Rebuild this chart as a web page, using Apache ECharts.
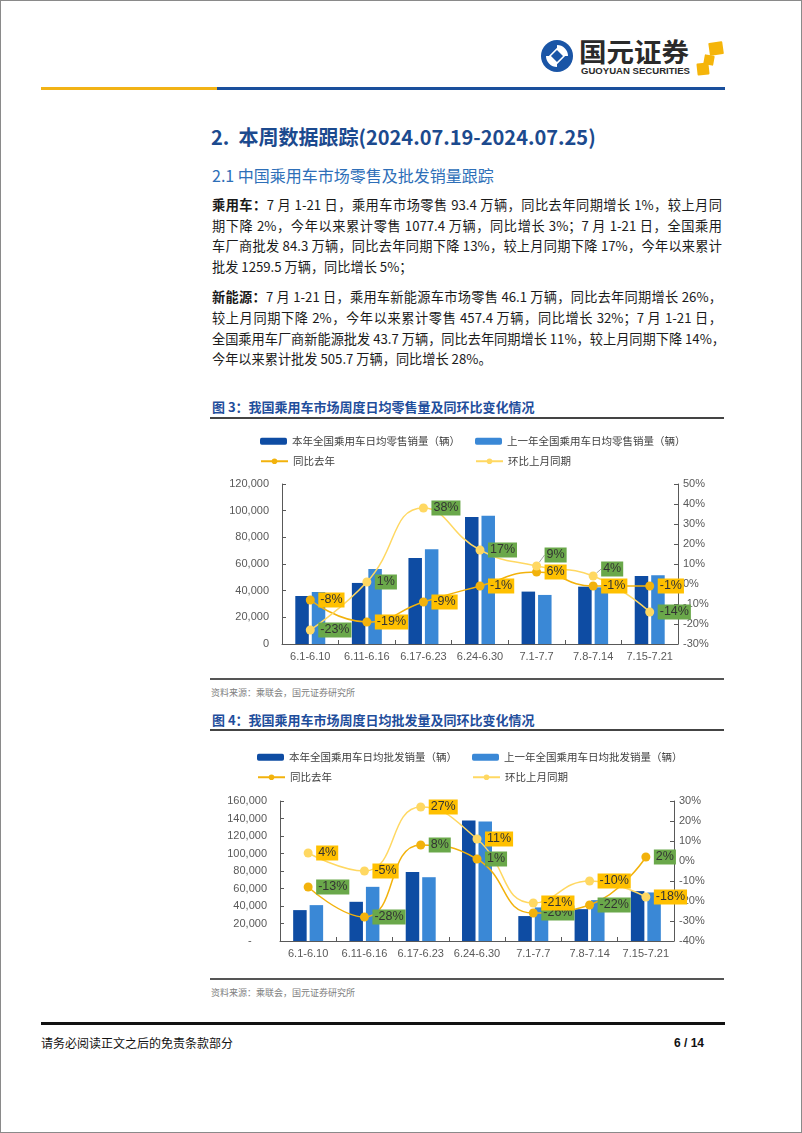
<!DOCTYPE html>
<html>
<head>
<meta charset="utf-8">
<script src="https://cdn.jsdelivr.net/npm/echarts@6/dist/echarts.min.js"></script>
<style>
html,body{margin:0;padding:0;background:#fff;}
#page{position:relative;width:802px;height:1133px;overflow:hidden;background:#fff;font-family:"Noto Sans CJK SC","Noto Sans",sans-serif;}
#border{position:absolute;left:0;top:0;width:802px;height:1133px;box-sizing:border-box;border:1px solid #8a8a8a;pointer-events:none;}
.t{position:absolute;white-space:nowrap;}
.ln{position:absolute;}
.body{position:absolute;left:212px;width:510px;font-size:13.2px;line-height:20px;height:20px;color:#1a1a1a;white-space:nowrap;text-align:justify;text-align-last:justify;}
.body.last{text-align:left;text-align-last:left;}
.body b{font-weight:700;}
.chart{position:absolute;left:200px;width:524px;}
</style>
</head>
<body>
<div id="page">
  <svg class="t" style="left:535px;top:36px" width="195" height="44" viewBox="0 0 195 44">
    <circle cx="22" cy="20" r="16" fill="#1a55a6"/>
    <path d="M22 9 A11 11 0 0 1 33 20 L27 20 A5 5 0 0 0 22 15 Z" fill="#fff"/>
    <path d="M22 31 A11 11 0 0 1 11 20 L17 20 A5 5 0 0 0 22 25 Z" fill="#fff"/>
    <rect x="17" y="15" width="10" height="10" transform="rotate(45 22 20)" fill="#1a55a6" stroke="#fff" stroke-width="1.5"/>
    <text x="44" y="26" font-family="Noto Sans CJK SC" font-weight="700" font-size="26" fill="#2a2a2a" textLength="110" lengthAdjust="spacingAndGlyphs">国元证券</text>
    <text x="46" y="38" font-family="Liberation Sans, Arial" font-weight="700" font-size="8.5" fill="#2a2a2a" textLength="109" lengthAdjust="spacingAndGlyphs">GUOYUAN SECURITIES</text>
    <rect x="174" y="6" width="14" height="13" rx="1" fill="#f5b50a" transform="rotate(-8 181 12)"/>
    <rect x="169" y="19" width="10" height="10" rx="1" fill="#f5b50a" transform="rotate(10 174 24)"/>
    <rect x="162" y="27" width="12" height="12" rx="1" fill="#f5b50a" transform="rotate(-6 168 33)"/>
  </svg>
  <div class="ln" style="left:41px;top:87px;width:176px;height:3px;background:#f2b316"></div>
  <div class="ln" style="left:217px;top:87px;width:508px;height:3px;background:#1a4f9c"></div>

  <div class="t" style="left:211px;top:124px;font-size:20px;line-height:26px;font-weight:700;color:#1c4a8e">2.&nbsp;&nbsp;本周数据跟踪(2024.07.19-2024.07.25)</div>
  <div class="t" style="left:212px;top:165px;font-size:16px;line-height:20px;color:#2e6fb8">2.1 中国乘用车市场零售及批发销量跟踪</div>

  <div class="body" style="top:195px"><b>乘用车：</b>7 月 1-21 日，乘用车市场零售 93.4 万辆，同比去年同期增长 1%，较上月同</div>
  <div class="body" style="top:216px">期下降 2%，今年以来累计零售 1077.4 万辆，同比增长 3%；7 月 1-21 日，全国乘用</div>
  <div class="body" style="top:236px">车厂商批发 84.3 万辆，同比去年同期下降 13%，较上月同期下降 17%，今年以来累计</div>
  <div class="body last" style="top:257px">批发 1259.5 万辆，同比增长 5%；</div>
  <div class="body" style="top:287px"><b>新能源：</b>7 月 1-21 日，乘用车新能源车市场零售 46.1 万辆，同比去年同期增长 26%，</div>
  <div class="body" style="top:308px">较上月同期下降 2%，今年以来累计零售 457.4 万辆，同比增长 32%；7 月 1-21 日，</div>
  <div class="body" style="top:329px">全国乘用车厂商新能源批发 43.7 万辆，同比去年同期增长 11%，较上月同期下降 14%，</div>
  <div class="body last" style="top:349px">今年以来累计批发 505.7 万辆，同比增长 28%。</div>

  <div class="t" style="left:212px;top:399px;font-size:13px;line-height:16px;font-weight:700;color:#1f4e9c">图 3：我国乘用车市场周度日均零售量及同环比变化情况</div>
  <div class="ln" style="left:210px;top:417px;width:514px;height:2px;background:#444"></div>
  <div id="c1" class="chart" style="top:425px;height:250px"></div>
  <div class="ln" style="left:210px;top:678px;width:514px;height:2px;background:#555"></div>
  <div class="t" style="left:211px;top:687px;font-size:9px;line-height:12px;color:#808080">资料来源：乘联会，国元证券研究所</div>

  <div class="t" style="left:212px;top:712px;font-size:13px;line-height:16px;font-weight:700;color:#1f4e9c">图 4：我国乘用车市场周度日均批发量及同环比变化情况</div>
  <div class="ln" style="left:210px;top:729px;width:514px;height:2px;background:#444"></div>
  <div id="c2" class="chart" style="top:735px;height:240px"></div>
  <div class="ln" style="left:210px;top:978px;width:514px;height:2px;background:#555"></div>
  <div class="t" style="left:211px;top:987px;font-size:9px;line-height:12px;color:#808080">资料来源：乘联会，国元证券研究所</div>

  <div class="ln" style="left:41px;top:1022px;width:684px;height:3px;background:#111"></div>
  <div class="t" style="left:41px;top:1035px;font-size:12px;line-height:16px;color:#111">请务必阅读正文之后的免责条款部分</div>
  <div class="t" style="left:674px;top:1035px;font-size:12px;line-height:16px;font-weight:700;color:#111;font-family:'Liberation Sans',Arial">6 / 14</div>
  <div id="border"></div>
</div>
<script>
// ---- data ----
var categories = ['6.1-6.10','6.11-6.16','6.17-6.23','6.24-6.30','7.1-7.7','7.8-7.14','7.15-7.21'];

var retailNames = ['本年全国乘用车日均零售销量（辆）','上一年全国乘用车日均零售销量（辆）','同比去年','环比上月同期'];
var retailThisYear = [36000, 45800, 64500, 95300, 39300, 43000, 51000];
var retailLastYear = [39000, 56200, 71000, 96200, 36800, 42500, 51500];
var retailYoY = [-8, -19, -9, -1, 6, -1, -1];
var retailMoM = [-23, 1, 38, 17, 9, 4, -14];

var wholesaleNames = ['本年全国乘用车日均批发销量（辆）','上一年全国乘用车日均批发销量（辆）','同比去年','环比上月同期'];
var wholesaleThisYear = [35300, 44800, 78900, 137800, 28500, 36400, 57000];
var wholesaleLastYear = [41000, 61900, 72900, 136700, 38400, 46700, 55500];
var wholesaleYoY = [-13, -28, 8, 1, -26, -22, 2];
var wholesaleMoM = [4, -5, 27, 11, -21, -10, -18];

var retailLeftTicks = {min: 0, max: 120000, interval: 20000};
var retailRightTicks = {min: -30, max: 50, interval: 10};
var wholesaleLeftTicks = {min: 0, max: 160000, interval: 20000};
var wholesaleRightTicks = {min: -40, max: 30, interval: 10};

// ---- styling ----
var DARK = '#0e4ca3', LIGHT = '#3a88d6', YOY = '#f2b20c', MOM = '#ffd862';
var GREEN = '#6aa84a', ORANGE = '#ffc000';
var AX = '#595959';
var NUMFONT = 'Liberation Sans, Arial, sans-serif';
var CJK = 'Noto Sans CJK SC, sans-serif';

function thousands(v){ return String(v).replace(/\B(?=(\d{3})+(?!\d))/g, ','); }

function labelCfg(bg){
  return {show:true, position:'right', distance:3.5, formatter:'{c}%', backgroundColor:bg,
    color:'#333', fontSize:12.5, fontFamily:NUMFONT, lineHeight:13, padding:[1,2,1,2]};
}

function build(el, names, barA, barB, yoy, mom, leftT, rightT, grid, legendPos, zeroDash, yoyLabelBg, momLabelBg, shifts){
  var chart = echarts.init(el, null, {renderer:'canvas'});
  var momData = mom.map(function(v,i){
    if (shifts && shifts[i] !== undefined)
      return {value:v, labelLine:{show:true, length2:0, lineStyle:{color:'#a6a6a6', width:1}}};
    return v;
  });
  var legendBase = {padding:0, itemWidth:27, itemHeight:7, itemGap:0,
    textStyle:{fontSize:10.5, color:'#404040', fontFamily:CJK}};
  var legends = names.map(function(n,i){
    var p = legendPos[i];
    return Object.assign({}, legendBase, {data:[n], left:p[0], top:p[1]});
  });
  chart.setOption({
    animation:false,
    textStyle:{fontFamily:NUMFONT},
    legend: legends,
    grid:{left:grid[0], top:grid[1], width:grid[2], height:grid[3], containLabel:false},
    xAxis:{type:'category', data:categories,
      axisLine:{lineStyle:{color:AX, width:1}},
      axisTick:{show:true, inside:true, length:4, lineStyle:{color:AX}},
      axisLabel:{interval:0, fontSize:11, color:AX, margin:7, fontFamily:NUMFONT},
      splitLine:{show:false}},
    yAxis:[
      {type:'value', min:leftT.min, max:leftT.max, interval:leftT.interval,
        axisLine:{show:true, lineStyle:{color:AX}},
        axisTick:{show:true, inside:true, length:4, lineStyle:{color:AX}},
        splitLine:{show:false},
        axisLabel:{fontSize:11, color:AX, margin:13, fontFamily:NUMFONT,
          formatter:function(v){ return (v===0 && zeroDash) ? '-     ' : thousands(v); }}},
      {type:'value', position:'right', min:rightT.min, max:rightT.max, interval:rightT.interval,
        axisLine:{show:true, lineStyle:{color:AX}},
        axisTick:{show:true, inside:true, length:4, lineStyle:{color:AX}},
        splitLine:{show:false},
        axisLabel:{fontSize:11, color:AX, margin:5, fontFamily:NUMFONT, formatter:'{value}%'}}
    ],
    series:[
      {name:names[0], type:'bar', data:barA, barWidth:13.5, barGap:'22%', itemStyle:{color:DARK}},
      {name:names[1], type:'bar', data:barB, barWidth:13.5, barGap:'22%', itemStyle:{color:LIGHT}},
      {name:names[2], type:'line', yAxisIndex:1, data:yoy, smooth:0.5, symbol:'circle', symbolSize:9,
        lineStyle:{color:YOY, width:1.5}, itemStyle:{color:YOY}, label:labelCfg(yoyLabelBg)},
      {name:names[3], type:'line', yAxisIndex:1, data:momData, smooth:0.5, symbol:'circle', symbolSize:9,
        lineStyle:{color:MOM, width:1.5}, itemStyle:{color:MOM}, label:labelCfg(momLabelBg),
        labelLayout: function(p){
          if (shifts && shifts[p.dataIndex] !== undefined) return {dy: shifts[p.dataIndex]};
          return {};
        }}
    ]
  });
  return chart;
}

build(document.getElementById('c1'), retailNames, retailThisYear, retailLastYear, retailYoY, retailMoM,
  retailLeftTicks, retailRightTicks, [82, 59, 396, 160],
  [[60,11],[275,11],[60,31],[275,31]], false, ORANGE, GREEN,
  {4:-11, 5:-7});

build(document.getElementById('c2'), wholesaleNames, wholesaleThisYear, wholesaleLastYear, wholesaleYoY, wholesaleMoM,
  wholesaleLeftTicks, wholesaleRightTicks, [80, 66, 394, 140],
  [[57,17],[272,17],[57,37],[272,37]], true, GREEN, ORANGE, null);
</script>
</body>
</html>
